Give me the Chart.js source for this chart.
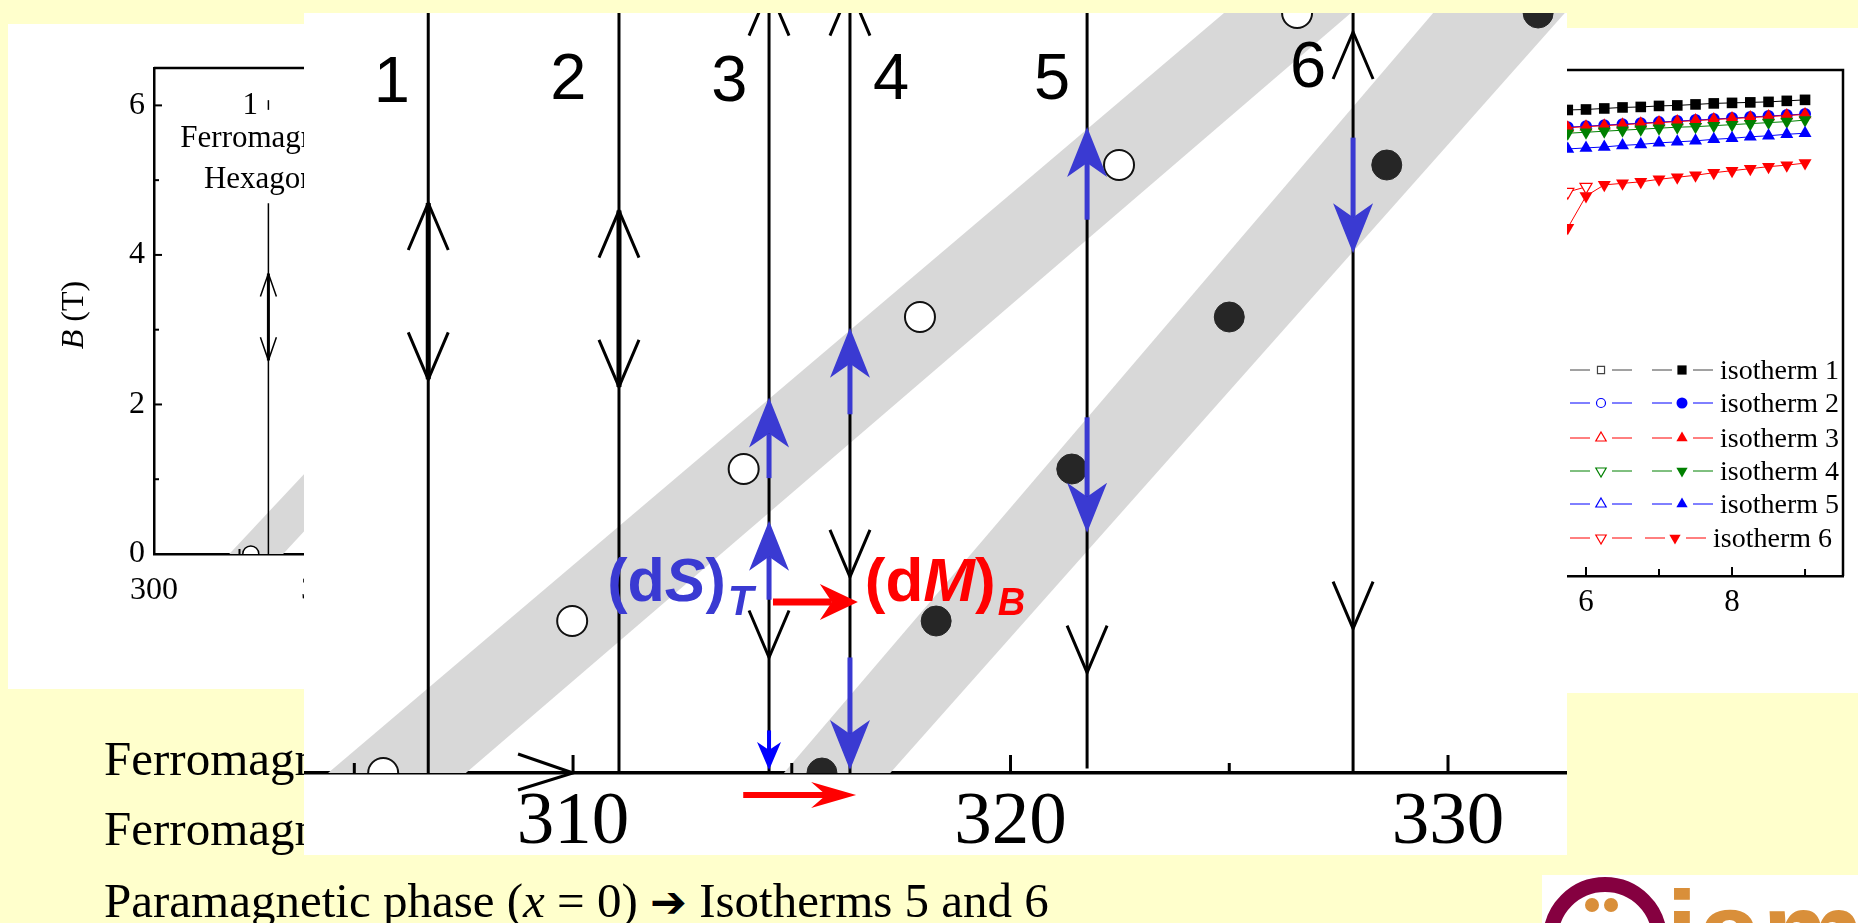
<!DOCTYPE html>
<html><head><meta charset="utf-8">
<script src="https://cdn.jsdelivr.net/npm/chart.js@4.4.1/dist/chart.umd.min.js"></script>
<style>
html,body{margin:0;padding:0;}
body{width:1858px;height:923px;background:#FFFFCC;position:relative;overflow:hidden;font-family:'Liberation Serif',serif;}
.panel{position:absolute;background:#fff;overflow:hidden;}
.panel canvas{position:absolute;left:0;top:0;}
#leftP{left:8px;top:24px;width:700px;height:665px;}
#rightP{left:1400px;top:28px;width:458px;height:665px;}
#mainP{left:304px;top:13px;width:1263px;height:842px;}
.tline{position:absolute;left:104px;font-size:49px;line-height:49px;white-space:nowrap;color:#000;}
.arr{font-family:'DejaVu Sans',sans-serif;font-size:44px;font-weight:bold;}
#logo{position:absolute;left:1542px;top:875px;width:316px;height:48px;background:#fff;overflow:hidden;}
</style></head><body>

<div id="leftP" class="panel"><canvas id="leftC" width="700" height="665"></canvas></div>

<div class="tline" style="top:734px;">Ferromagnetic phase</div>
<div class="tline" style="top:804px;">Ferromagnetic phase</div>
<div class="tline" style="top:876px;">Paramagnetic phase (<i>x</i> = 0) <span class="arr">➔</span> Isotherms 5 and 6</div>

<div id="rightP" class="panel"><canvas id="rightC" width="458" height="665"></canvas></div>

<div id="mainP" class="panel"><canvas id="mainC" width="1263" height="842"></canvas></div>

<div id="logo">
  <div style="position:absolute;left:1px;top:2px;width:94px;height:94px;border:15px solid #850040;border-radius:50%;"></div>
  <div style="position:absolute;left:43px;top:23px;width:14px;height:14px;border-radius:50%;background:#D98F3A;"></div>
  <div style="position:absolute;left:62px;top:23px;width:14px;height:14px;border-radius:50%;background:#D98F3A;"></div>
  <div style="position:absolute;left:124px;top:0px;font:bold 115px/115px 'Liberation Sans',sans-serif;color:#D98F3A;">iam</div>
</div>

<script>
// ---------------- DATA ----------------
// main chart: temperature T (K) vs field B (T)
const mainTickValues = [305, 310, 315, 320, 325, 330];
const isoLabels = ['1', '2', '3', '4', '5', '6'];
const isoT = [306.69, 311.05, 314.48, 316.33, 321.75, 327.83];
const isoBottomB = [0, 0, 0, 0, 0.03, 0];
const isoTopB = [5, 5, 5, 5, 5, 5];
const isoLabelT = [305.86, 309.89, 313.57, 317.27, 320.95, 326.8];
const isoLabelB = [4.53, 4.55, 4.54, 4.55, 4.55, 4.63];
const thickFromB = [2.59, 2.54];
const thickToB = [3.75, 3.70];
// black open arrow heads on the isotherms
const headIso = [1, 1, 2, 2, 3, 3, 4, 4, 5, 6, 6];
const headTipB = [3.75, 2.59, 3.70, 2.54, 5.16, 0.76, 5.16, 1.29, 0.66, 4.875, 0.95];
const headDir = ['up', 'down', 'up', 'down', 'up', 'down', 'up', 'down', 'down', 'up', 'down'];
// blue (dS)_T arrows
const blueIso = [3, 3, 3, 4, 4, 5, 5, 6];
const blueFromB = [1.94, 1.14, 0.28, 2.36, 0.76, 3.64, 2.34, 4.18];
const blueToB = [2.47, 1.66, 0.02, 2.93, 0.02, 4.25, 1.58, 3.42];
// red (dM)_B arrows
const redFromT = [314.57, 313.89];
const redToT = [316.51, 316.47];
const redB = [1.125, -0.145];
// transition bands (edges)
const band1LeftT = [304.4, 324.88];
const band1RightT = [307.55, 327.78];
const band2LeftT = [314.82, 329.66];
const band2RightT = [317.25, 332.67];
const bandB = [0, 5];
// data circles
const circleB = [0, 1, 2, 3, 4, 5];
const openT = [305.66, 309.98, 313.9, 317.93, 322.48, 326.55];
const filledT = [315.69, 318.3, 321.4, 325.0, 328.6, 332.06];
// text anchors
const dSAnchor = [310.78, 1.13];
const dMAnchor = [316.67, 1.13];

// left (background) chart
const leftYTicks = [0, 1, 2, 3, 4, 5, 6];
const leftXTicks = [300, 305, 310, 315, 320, 325, 330];
const leftLineTopB = 4.69;
const leftStubB = [5.94, 6.07];
const leftHalfCircleT = 305.66;
const leftLabel1 = [305.63, 6.0];
const leftText1 = [301.54, 5.44];
const leftText2 = [302.92, 4.89];

// right chart: isotherm magnetisation curves
const rightXTicks = [4, 5, 6, 7, 8, 9];
const rightB = [5.75, 6.0, 6.25, 6.5, 6.75, 7.0, 7.25, 7.5, 7.75, 8.0, 8.25, 8.5, 8.75, 9.0];
const iso1M = [92.1, 92.2, 92.4, 92.6, 92.7, 92.9, 93.0, 93.2, 93.4, 93.5, 93.6, 93.7, 93.9, 94.1];
const iso2M = [88.7, 88.9, 89.1, 89.3, 89.5, 89.7, 89.9, 90.1, 90.3, 90.5, 90.7, 90.9, 91.1, 91.3];
const iso3M = [88.6, 88.8, 89.0, 89.2, 89.4, 89.6, 89.8, 90.0, 90.2, 90.4, 90.6, 90.8, 91.0, 91.2];
const iso4M = [87.5, 87.7, 87.9, 88.1, 88.3, 88.5, 88.7, 88.8, 89.0, 89.2, 89.4, 89.6, 89.8, 90.1];
const iso5M = [84.4, 84.6, 84.8, 85.1, 85.3, 85.6, 85.8, 86.0, 86.3, 86.5, 86.8, 87.0, 87.3, 87.5];
const iso6M = [68.8, 75.1, 77.3, 77.6, 77.9, 78.4, 78.8, 79.2, 79.7, 80.1, 80.5, 80.9, 81.2, 81.6];
const iso6OpenB = [5.75, 6.0];
const iso6OpenM = [75.9, 76.9];
const legendNames = ['isotherm 1', 'isotherm 2', 'isotherm 3', 'isotherm 4', 'isotherm 5', 'isotherm 6'];

// ---------------- STYLES ----------------
const BAND = '#d8d8d8';
const BLUE = '#3a3ad2';
const RED = '#ff0000';
const SERIF = "'Liberation Serif', serif";
const SANS = "'Liberation Sans', Arial, sans-serif";
const isoColors = ['#000000', '#0000ff', '#ff0000', '#008000', '#0000ff', '#ff0000'];
const isoStyles = [['rect', 0], ['circle', 0], ['triangle', 0], ['triangle', 180], ['triangle', 0], ['triangle', 180]];

const pts = (xs, ys) => xs.map((v, i) => ({x: v, y: ys[i]}));
const edge = (ts, bs) => ts.map((t, i) => ({x: t, y: bs[i]}));

function vHead(ctx, X, Y, dir, hw, len, lw) {
  const s = dir === 'up' ? 1 : -1;
  ctx.beginPath();
  ctx.moveTo(X - hw, Y + s * len); ctx.lineTo(X, Y); ctx.lineTo(X + hw, Y + s * len);
  ctx.lineWidth = lw; ctx.lineJoin = 'miter'; ctx.strokeStyle = '#000'; ctx.stroke();
}
function filledArrowV(ctx, X, Y0, Y1, color, hw, len, notch, lw) {
  const s = Math.sign(Y1 - Y0);
  ctx.strokeStyle = color; ctx.lineWidth = lw; ctx.lineCap = 'butt';
  ctx.beginPath(); ctx.moveTo(X, Y0); ctx.lineTo(X, Y1 - s * notch); ctx.stroke();
  ctx.fillStyle = color; ctx.beginPath();
  ctx.moveTo(X, Y1); ctx.lineTo(X - hw, Y1 - s * len); ctx.lineTo(X, Y1 - s * notch); ctx.lineTo(X + hw, Y1 - s * len);
  ctx.closePath(); ctx.fill();
}
function filledArrowH(ctx, X0, X1, Y, color, hw, len, notch, lw) {
  const s = Math.sign(X1 - X0);
  ctx.strokeStyle = color; ctx.lineWidth = lw;
  ctx.beginPath(); ctx.moveTo(X0, Y); ctx.lineTo(X1 - s * notch, Y); ctx.stroke();
  ctx.fillStyle = color; ctx.beginPath();
  ctx.moveTo(X1, Y); ctx.lineTo(X1 - s * len, Y - hw); ctx.lineTo(X1 - s * notch, Y); ctx.lineTo(X1 - s * len, Y + hw);
  ctx.closePath(); ctx.fill();
}
function rich(ctx, x, y, parts) {
  let cx = x;
  ctx.textAlign = 'left'; ctx.textBaseline = 'alphabetic';
  parts.forEach(p => {
    ctx.font = p.f; ctx.fillStyle = p.c;
    ctx.fillText(p.t, cx, y + (p.dy || 0));
    cx += ctx.measureText(p.t).width + (p.dx || 0);
  });
}

// ---------------- MAIN CHART ----------------
const mainPlugin = {
  id: 'mainDeco',
  afterDatasetsDraw(chart) {
    const {ctx, scales: {x, y}} = chart;
    const px = v => x.getPixelForValue(v), py = v => y.getPixelForValue(v);
    ctx.save();
    headIso.forEach((iso, i) => vHead(ctx, px(isoT[iso - 1]), py(headTipB[i]), headDir[i], 20, 47, 3));
    blueIso.forEach((iso, i) => {
      const small = blueToB[i] < 0.1 && blueFromB[i] < 0.5;
      if (small) filledArrowV(ctx, px(isoT[iso - 1]), py(blueFromB[i]), py(blueToB[i]), '#0000ff', 12, 28, 20, 4);
      else filledArrowV(ctx, px(isoT[iso - 1]), py(blueFromB[i]), py(blueToB[i]), BLUE, 20, 50, 36, 5);
    });
    filledArrowH(ctx, px(redFromT[0]), px(redToT[0]), py(redB[0]), RED, 18, 38, 26, 7);
    filledArrowH(ctx, px(redFromT[1]), px(redToT[1]), py(redB[1]), RED, 13, 45, 30, 6);
    ctx.restore();
  },
  afterDraw(chart) {
    const {ctx, scales: {x, y}} = chart;
    const px = v => x.getPixelForValue(v), py = v => y.getPixelForValue(v);
    ctx.save();
    ctx.strokeStyle = '#000'; ctx.lineWidth = 3;
    mainTickValues.forEach(v => {
      const X = px(v), major = v % 10 === 0;
      ctx.beginPath(); ctx.moveTo(X, py(0)); ctx.lineTo(X, py(0) - (major ? 18 : 10)); ctx.stroke();
    });
    ctx.beginPath(); ctx.moveTo(px(310) - 55, py(0) - 19); ctx.lineTo(px(310), py(0)); ctx.lineTo(px(310) - 55, py(0) + 17);
    ctx.lineWidth = 3; ctx.stroke();
    ctx.fillStyle = '#000'; ctx.font = '65px ' + SANS; ctx.textAlign = 'center'; ctx.textBaseline = 'middle';
    isoLabels.forEach((t, i) => ctx.fillText(t, px(isoLabelT[i]), py(isoLabelB[i])));
    rich(ctx, px(dSAnchor[0]), py(dSAnchor[1]), [
      {t: '(d', f: 'bold 61px ' + SANS, c: BLUE},
      {t: 'S', f: 'italic bold 61px ' + SANS, c: BLUE},
      {t: ')', f: 'bold 61px ' + SANS, c: BLUE, dx: 2},
      {t: 'T', f: 'italic bold 42px ' + SANS, c: BLUE, dy: 14}
    ]);
    rich(ctx, px(dMAnchor[0]), py(dMAnchor[1]), [
      {t: '(d', f: 'bold 62px ' + SANS, c: RED},
      {t: 'M', f: 'italic bold 62px ' + SANS, c: RED},
      {t: ')', f: 'bold 62px ' + SANS, c: RED, dx: 2},
      {t: 'B', f: 'italic bold 38px ' + SANS, c: RED, dy: 14}
    ]);
    ctx.restore();
  }
};

const mainDatasets = [
  {data: edge(band1LeftT, bandB), fill: '+1', backgroundColor: BAND, borderColor: 'rgba(0,0,0,0)', borderWidth: 0, pointRadius: 0, order: 10},
  {data: edge(band1RightT, bandB), fill: false, borderColor: 'rgba(0,0,0,0)', borderWidth: 0, pointRadius: 0, order: 10},
  {data: edge(band2LeftT, bandB), fill: '+1', backgroundColor: BAND, borderColor: 'rgba(0,0,0,0)', borderWidth: 0, pointRadius: 0, order: 10},
  {data: edge(band2RightT, bandB), fill: false, borderColor: 'rgba(0,0,0,0)', borderWidth: 0, pointRadius: 0, order: 10}
];
isoT.forEach((t, i) => mainDatasets.push({
  data: [{x: t, y: isoBottomB[i]}, {x: t, y: isoTopB[i]}], borderColor: '#000', borderWidth: 3, pointRadius: 0, fill: false, order: 5
}));
thickFromB.forEach((b, i) => mainDatasets.push({
  data: [{x: isoT[i], y: b}, {x: isoT[i], y: thickToB[i]}], borderColor: '#000', borderWidth: 5, pointRadius: 0, fill: false, order: 4
}));
mainDatasets.push({data: pts(openT, circleB), showLine: false, pointRadius: 15, pointBackgroundColor: '#fff',
  pointBorderColor: '#111', pointBorderWidth: 2, clip: 0, order: 1});
mainDatasets.push({data: pts(filledT, circleB), showLine: false, pointRadius: 15, pointBackgroundColor: '#262626',
  pointBorderColor: '#262626', pointBorderWidth: 1, clip: 0, order: 1});

new Chart(document.getElementById('mainC'), {
  type: 'line',
  data: {datasets: mainDatasets},
  options: {
    indexAxis: 'y',
    responsive: false, animation: false, devicePixelRatio: 1,
    layout: {padding: 0, autoPadding: false},
    plugins: {legend: {display: false}, tooltip: {enabled: false}},
    scales: {
      x: {
        type: 'linear', position: 'bottom', min: 303.85, max: 332.72,
        afterBuildTicks: s => { s.ticks = mainTickValues.map(v => ({value: v})); },
        ticks: {callback: v => (v % 10 === 0 ? String(v) : ''), font: {family: SERIF, size: 75}, color: '#000',
          padding: 5, maxRotation: 0, autoSkip: false},
        grid: {display: false, drawTicks: false},
        border: {display: true, color: '#000', width: 3.5},
        afterFit: s => { s.height = 82; }
      },
      y: {type: 'linear', position: 'left', display: false, min: 0, max: 5}
    }
  },
  plugins: [mainPlugin]
});

// ---------------- LEFT CHART ----------------
const leftPlugin = {
  id: 'leftDeco',
  afterDraw(chart) {
    const {ctx, chartArea: a, scales: {x, y}} = chart;
    const px = v => x.getPixelForValue(v), py = v => y.getPixelForValue(v);
    ctx.save();
    ctx.strokeStyle = '#000';
    ctx.lineWidth = 2.5; ctx.beginPath(); ctx.moveTo(a.left, a.top); ctx.lineTo(a.right, a.top); ctx.stroke();
    ctx.lineWidth = 2;
    leftYTicks.forEach(v => { const Y = py(v); ctx.beginPath(); ctx.moveTo(a.left, Y); ctx.lineTo(a.left + (v % 2 === 0 ? 8 : 5), Y); ctx.stroke(); });
    leftXTicks.forEach(v => { const X = px(v); ctx.beginPath(); ctx.moveTo(X, a.bottom); ctx.lineTo(X, a.bottom - (v % 10 === 0 ? 8 : 5)); ctx.stroke(); });
    vHead(ctx, px(isoT[0]), py(headTipB[0]), 'up', 8, 23, 1.5);
    vHead(ctx, px(isoT[0]), py(headTipB[1]), 'down', 8, 23, 1.5);
    ctx.fillStyle = '#000'; ctx.textBaseline = 'middle'; ctx.textAlign = 'center';
    ctx.font = '31px ' + SERIF;
    ctx.fillText('1', px(leftLabel1[0]), py(leftLabel1[1]));
    ctx.textBaseline = 'alphabetic'; ctx.textAlign = 'left';
    ctx.fillText('Ferromagnetic', px(leftText1[0]), py(leftText1[1]));
    ctx.fillText('Hexagonal', px(leftText2[0]), py(leftText2[1]));
    ctx.translate(67, 291); ctx.rotate(-Math.PI / 2);
    ctx.font = 'italic 32px ' + SERIF;
    const wB = ctx.measureText('B').width;
    ctx.font = '32px ' + SERIF;
    const wT = ctx.measureText(' (T)').width;
    ctx.textBaseline = 'middle';
    ctx.font = 'italic 32px ' + SERIF; ctx.fillText('B', -(wB + wT) / 2, 0);
    ctx.font = '32px ' + SERIF; ctx.fillText(' (T)', -(wB + wT) / 2 + wB, 0);
    ctx.restore();
  }
};
new Chart(document.getElementById('leftC'), {
  type: 'line',
  data: {datasets: [
    {data: edge(band1LeftT, bandB), fill: '+1', backgroundColor: BAND, borderColor: 'rgba(0,0,0,0)', borderWidth: 0, pointRadius: 0, order: 10},
    {data: edge(band1RightT, bandB), fill: false, borderColor: 'rgba(0,0,0,0)', borderWidth: 0, pointRadius: 0, order: 10},
    {data: [{x: isoT[0], y: 0}, {x: isoT[0], y: leftLineTopB}], borderColor: '#000', borderWidth: 1.5, pointRadius: 0, order: 5},
    {data: [{x: isoT[0], y: thickFromB[0]}, {x: isoT[0], y: thickToB[0]}], borderColor: '#000', borderWidth: 3, pointRadius: 0, order: 4},
    {data: [{x: isoT[0], y: leftStubB[0]}, {x: isoT[0], y: leftStubB[1]}], borderColor: '#000', borderWidth: 1.5, pointRadius: 0, order: 4},
    {data: [{x: leftHalfCircleT, y: 0}], showLine: false, pointRadius: 8, pointBackgroundColor: '#fff', pointBorderColor: '#000', pointBorderWidth: 1.5, clip: 0, order: 1}
  ]},
  options: {
    indexAxis: 'y',
    responsive: false, animation: false, devicePixelRatio: 1,
    layout: {padding: {top: 44, right: 8, left: 0, bottom: 0}, autoPadding: false},
    plugins: {legend: {display: false}, tooltip: {enabled: false}},
    scales: {
      x: {type: 'linear', position: 'bottom', min: 300, max: 330,
        afterBuildTicks: s => { s.ticks = leftXTicks.map(v => ({value: v})); },
        ticks: {callback: v => (v % 10 === 0 ? String(v) : ''), font: {family: SERIF, size: 32}, color: '#000', padding: 17, maxRotation: 0, autoSkip: false},
        grid: {display: false, drawTicks: false}, border: {display: true, color: '#000', width: 2.5},
        afterFit: s => { s.height = 135; }},
      y: {type: 'linear', position: 'left', min: 0, max: 6.5,
        afterBuildTicks: s => { s.ticks = leftYTicks.map(v => ({value: v})); },
        ticks: {callback: v => (v % 2 === 0 ? String(v) : ''), font: {family: SERIF, size: 32}, color: '#000', padding: 9, autoSkip: false},
        grid: {display: false, drawTicks: false}, border: {display: true, color: '#000', width: 2.5},
        afterFit: s => { s.width = 146; }}
    }
  },
  plugins: [leftPlugin]
});

// ---------------- RIGHT CHART ----------------
const rightSeries = [iso1M, iso2M, iso3M, iso4M, iso5M, iso6M];
const rightOrders = [6, 5, 4, 3, 2, 1];
const rightRadius = [7.5, 6, 7.5, 7.5, 7.5, 7.5];
const rightDatasets = rightSeries.map((s, i) => ({
  data: pts(rightB, s), borderColor: isoColors[i], borderWidth: 1, pointStyle: isoStyles[i][0], pointRotation: isoStyles[i][1],
  pointRadius: rightRadius[i], pointBackgroundColor: isoColors[i], pointBorderColor: isoColors[i], pointBorderWidth: 0, order: rightOrders[i], clip: 10
}));
rightDatasets.push({data: pts(iso6OpenB, iso6OpenM), borderColor: RED, borderWidth: 1, pointStyle: 'triangle', pointRotation: 180,
  pointRadius: 7, pointBackgroundColor: '#fff', pointBorderColor: RED, pointBorderWidth: 1.2, order: 0, clip: 10});

const rightPlugin = {
  id: 'rightDeco',
  afterDraw(chart) {
    const {ctx, chartArea: a, scales: {x}} = chart;
    ctx.save();
    ctx.strokeStyle = '#000'; ctx.lineWidth = 2.5;
    ctx.beginPath(); ctx.moveTo(a.left, a.top); ctx.lineTo(a.right, a.top); ctx.lineTo(a.right, a.bottom); ctx.stroke();
    ctx.lineWidth = 2;
    rightXTicks.forEach(v => { const X = x.getPixelForValue(v); ctx.beginPath(); ctx.moveTo(X, a.bottom); ctx.lineTo(X, a.bottom - (v % 2 === 0 ? 9 : 7)); ctx.stroke(); });
    const rowsY = [342, 375, 410, 443, 476, 510];
    legendNames.forEach((name, i) => {
      const Y = rowsY[i], sh = i === 5 ? -7 : 0;
      const lc = i === 0 ? '#444' : isoColors[i];
      ctx.strokeStyle = lc; ctx.lineWidth = 1;
      [[170, 190], [212, 232], [252 + sh, 272 + sh], [293 + sh, 313 + sh]].forEach(([a0, a1]) => {
        ctx.beginPath(); ctx.moveTo(a0, Y); ctx.lineTo(a1, Y); ctx.stroke();
      });
      const openR = [5, 4.5, 6, 6, 6, 6][i], fillR = [6.5, 5.5, 6.5, 6.5, 6.5, 6.5][i];
      ctx.fillStyle = '#fff'; ctx.strokeStyle = lc; ctx.lineWidth = 1.2;
      Chart.helpers.drawPoint(ctx, {pointStyle: isoStyles[i][0], rotation: isoStyles[i][1], radius: openR, borderWidth: 1.2}, 201, Y);
      ctx.fillStyle = isoColors[i];
      Chart.helpers.drawPoint(ctx, {pointStyle: isoStyles[i][0], rotation: isoStyles[i][1], radius: fillR, borderWidth: 0}, 282 + sh, Y);
      ctx.fillStyle = '#000'; ctx.font = '28px ' + SERIF; ctx.textAlign = 'left'; ctx.textBaseline = 'alphabetic';
      ctx.fillText(name, 320 + sh, Y + 9);
    });
    ctx.restore();
  }
};
new Chart(document.getElementById('rightC'), {
  type: 'line',
  data: {datasets: rightDatasets},
  options: {
    responsive: false, animation: false, devicePixelRatio: 1,
    layout: {padding: {top: 42, right: 15, left: 20, bottom: 0}, autoPadding: false},
    plugins: {legend: {display: false}, tooltip: {enabled: false}},
    scales: {
      x: {type: 'linear', min: 3.726, max: 9.52,
        afterBuildTicks: s => { s.ticks = rightXTicks.map(v => ({value: v})); },
        ticks: {callback: v => (v % 2 === 0 ? String(v) : ''), font: {family: SERIF, size: 31}, color: '#000', padding: 8, maxRotation: 0, autoSkip: false},
        grid: {display: false, drawTicks: false}, border: {display: true, color: '#000', width: 2.5},
        afterFit: s => { s.height = 117; }},
      y: {type: 'linear', display: false, min: 0, max: 100}
    }
  },
  plugins: [rightPlugin]
});
</script>
</body></html>
